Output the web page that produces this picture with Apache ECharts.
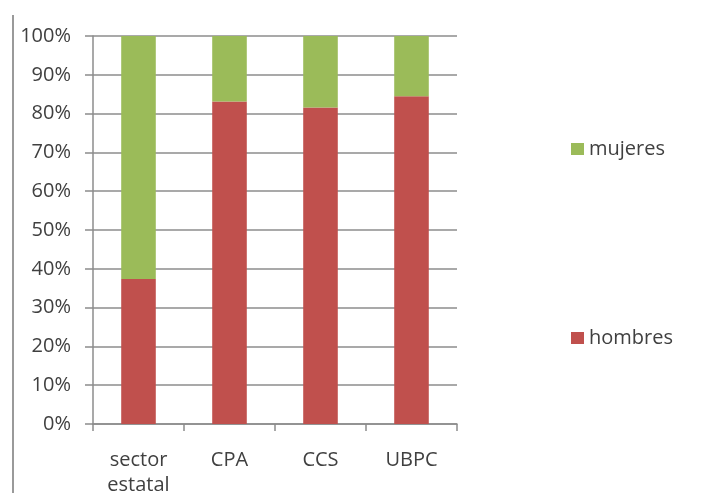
<!DOCTYPE html>
<html>
<head>
<meta charset="utf-8">
<script src="https://cdn.jsdelivr.net/npm/echarts@6/dist/echarts.min.js"></script>
<style>
html,body{margin:0;padding:0;background:#fff;}
#c{width:718px;height:493px;}
</style>
</head>
<body>
<div id="c"></div>
<script>
const categories = ['sector\nestatal', 'CPA', 'CCS', 'UBPC'];
const hombres = [37.4, 83.1, 81.6, 84.5];
const mujeres = [62.6, 16.9, 18.4, 15.5];
const yTicks = [0, 10, 20, 30, 40, 50, 60, 70, 80, 90, 100];

const chart = echarts.init(document.getElementById('c'));
const font = '"Open Sans", sans-serif';
chart.setOption({
  animation: false,
  backgroundColor: '#fff',
  grid: { left: 93, right: 261, top: 36, bottom: 69, containLabel: false, outerBoundsMode: 'none' },
  legend: {
    data: ['mujeres', 'hombres'],
    orient: 'vertical',
    left: 566,
    top: 134,
    itemGap: 169,
    itemWidth: 13,
    itemHeight: 12,
    icon: 'rect',
    textStyle: { fontFamily: font, fontSize: 20, color: '#404040' }
  },
  xAxis: {
    type: 'category',
    data: categories,
    axisLine: { lineStyle: { color: '#8c8c8c', width: 1.5 } },
    axisTick: { show: true, length: 7, lineStyle: { color: '#8c8c8c', width: 1.5 } },
    axisLabel: { fontFamily: font, fontSize: 20, color: '#404040', margin: 24, lineHeight: 25 }
  },
  yAxis: {
    type: 'value',
    min: yTicks[0],
    max: yTicks[yTicks.length - 1],
    interval: 10,
    axisLine: { show: true, lineStyle: { color: '#8c8c8c', width: 1.5 } },
    axisTick: { show: true, length: 8, lineStyle: { color: '#8c8c8c', width: 1.5 } },
    splitLine: { lineStyle: { color: '#8c8c8c', width: 1.5 } },
    axisLabel: { fontFamily: font, fontSize: 20, color: '#404040', margin: 22, formatter: v => v + '%' }
  },
  series: [
    { name: 'hombres', type: 'bar', stack: 't', data: hombres, barWidth: '38%', itemStyle: { color: '#C0504D' } },
    { name: 'mujeres', type: 'bar', stack: 't', data: mujeres, barWidth: '38%', itemStyle: { color: '#9BBB59' } }
  ],
  graphic: [
    { type: 'line', shape: { x1: 13, y1: 15, x2: 13, y2: 493 }, style: { stroke: '#9a9a9a', lineWidth: 2 } }
  ]
});
</script>
</body>
</html>
